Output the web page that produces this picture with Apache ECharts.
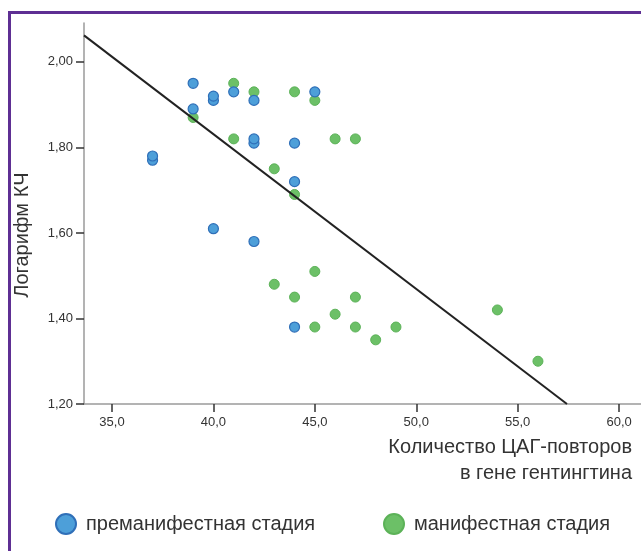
<!DOCTYPE html>
<html>
<head>
<meta charset="utf-8">
<script src="https://cdn.jsdelivr.net/npm/echarts@6/dist/echarts.min.js"></script>
<style>
  html, body { margin: 0; padding: 0; background: #fff; }
  #chart { width: 641px; height: 551px; }
</style>
</head>
<body>
<div id="chart"></div>
<script>
// CAG repeat count (x) and log copy number (y), premanifest stage
const premanifestX = [37, 37, 39, 39, 40, 40, 41, 42, 42, 42, 44, 44, 45, 40, 42, 44];
const premanifestY = [1.77, 1.78, 1.95, 1.89, 1.91, 1.92, 1.93, 1.91, 1.81, 1.82, 1.81, 1.72, 1.93, 1.61, 1.58, 1.38];

// manifest stage
const manifestX = [39, 41, 41, 42, 44, 45, 46, 47, 43, 44, 45, 43, 44, 47, 46, 45, 47, 49, 48, 54, 56];
const manifestY = [1.87, 1.95, 1.82, 1.93, 1.93, 1.91, 1.82, 1.82, 1.75, 1.69, 1.51, 1.48, 1.45, 1.45, 1.41, 1.38, 1.38, 1.38, 1.35, 1.42, 1.30];

// fitted regression line: y = intercept + slope * x
const fitIntercept = 3.279;
const fitSlope = -0.0362;

const xTicks = [35, 40, 45, 50, 55, 60];
const yTicks = [1.2, 1.4, 1.6, 1.8, 2.0];

const xMin = 33.62, xMax = 61.08;
const yMin = 1.2, yMax = 2.091;

const seriesNames = ['преманифестная стадия', 'манифестная стадия'];
const xTitle = 'Количество ЦАГ-повторов\nв гене гентингтина';
const yTitle = 'Логарифм КЧ';

const zip = (xs, ys) => xs.map((x, i) => [x, ys[i]]);
const xEnd = (yMin - fitIntercept) / fitSlope;
const fitLine = [[xMin, fitIntercept + fitSlope * xMin], [xEnd, yMin]];

const comma = (v, d) => v.toFixed(d).replace('.', ',');
const tickFont = '"Liberation Sans Narrow", "Liberation Sans", Arial, sans-serif';
const textFont = '"Liberation Sans", Arial, sans-serif';

const chart = echarts.init(document.getElementById('chart'));
chart.setOption({
  backgroundColor: '#ffffff',
  animation: false,
  grid: { left: 84, right: 0, top: 23, bottom: 147, containLabel: false, outerBoundsMode: 'none' },
  xAxis: {
    type: 'value', min: xMin, max: xMax,
    splitLine: { show: false },
    axisLine: { onZero: false, lineStyle: { color: '#9a9a9a', width: 1.5 } },
    axisTick: { customValues: xTicks, length: 8, lineStyle: { color: '#333', width: 1.5 } },
    axisLabel: {
      customValues: xTicks, formatter: v => comma(v, 1),
      color: '#333', fontSize: 13, fontFamily: tickFont, margin: 12
    }
  },
  yAxis: {
    type: 'value', min: yMin, max: yMax,
    splitLine: { show: false },
    axisLine: { onZero: false, lineStyle: { color: '#9a9a9a', width: 1.5 } },
    axisTick: { customValues: yTicks, length: 8, lineStyle: { color: '#333', width: 1.5 } },
    axisLabel: {
      customValues: yTicks, formatter: v => comma(v, 2),
      color: '#333', fontSize: 13, fontFamily: tickFont, margin: 11
    }
  },
  legend: [
    {
      data: [seriesNames[0]], left: 50, top: 508, itemWidth: 20, itemHeight: 20,
      icon: 'circle', itemGap: 0,
      textStyle: { fontSize: 20, color: '#333', fontFamily: textFont, padding: [0, 0, 0, 5] }
    },
    {
      data: [seriesNames[1]], left: 378, top: 508, itemWidth: 20, itemHeight: 20,
      icon: 'circle', itemGap: 0,
      textStyle: { fontSize: 20, color: '#333', fontFamily: textFont, padding: [0, 0, 0, 5] }
    }
  ],
  graphic: [
    {
      type: 'rect', silent: true, z: 100,
      shape: { x: 9.5, y: 12.5, width: 800, height: 700 },
      style: { fill: 'none', stroke: '#5e2f93', lineWidth: 3 }
    },
    {
      type: 'text', x: 22, y: 235, rotation: Math.PI / 2,
      style: {
        text: yTitle, fill: '#333', fontSize: 20, fontFamily: textFont,
        align: 'center', verticalAlign: 'middle'
      }
    },
    {
      type: 'text', x: 632, y: 434,
      style: {
        text: xTitle, fill: '#333', fontSize: 20, fontFamily: textFont,
        align: 'right', verticalAlign: 'top', lineHeight: 26
      }
    }
  ],
  series: [
    {
      name: seriesNames[1], type: 'scatter', z: 2,
      data: zip(manifestX, manifestY), symbolSize: 10,
      itemStyle: { color: '#6cc067', borderColor: '#5cb258', borderWidth: 1, opacity: 1 }
    },
    {
      name: seriesNames[0], type: 'scatter', z: 3,
      data: zip(premanifestX, premanifestY), symbolSize: 10,
      itemStyle: { color: '#4d9fd9', borderColor: '#2f6fb8', borderWidth: 1.2, opacity: 1 }
    },
    {
      name: 'fit', type: 'line', z: 4, data: fitLine, symbol: 'none', silent: true,
      lineStyle: { color: '#222', width: 2 }
    }
  ]
});
</script>
</body>
</html>
